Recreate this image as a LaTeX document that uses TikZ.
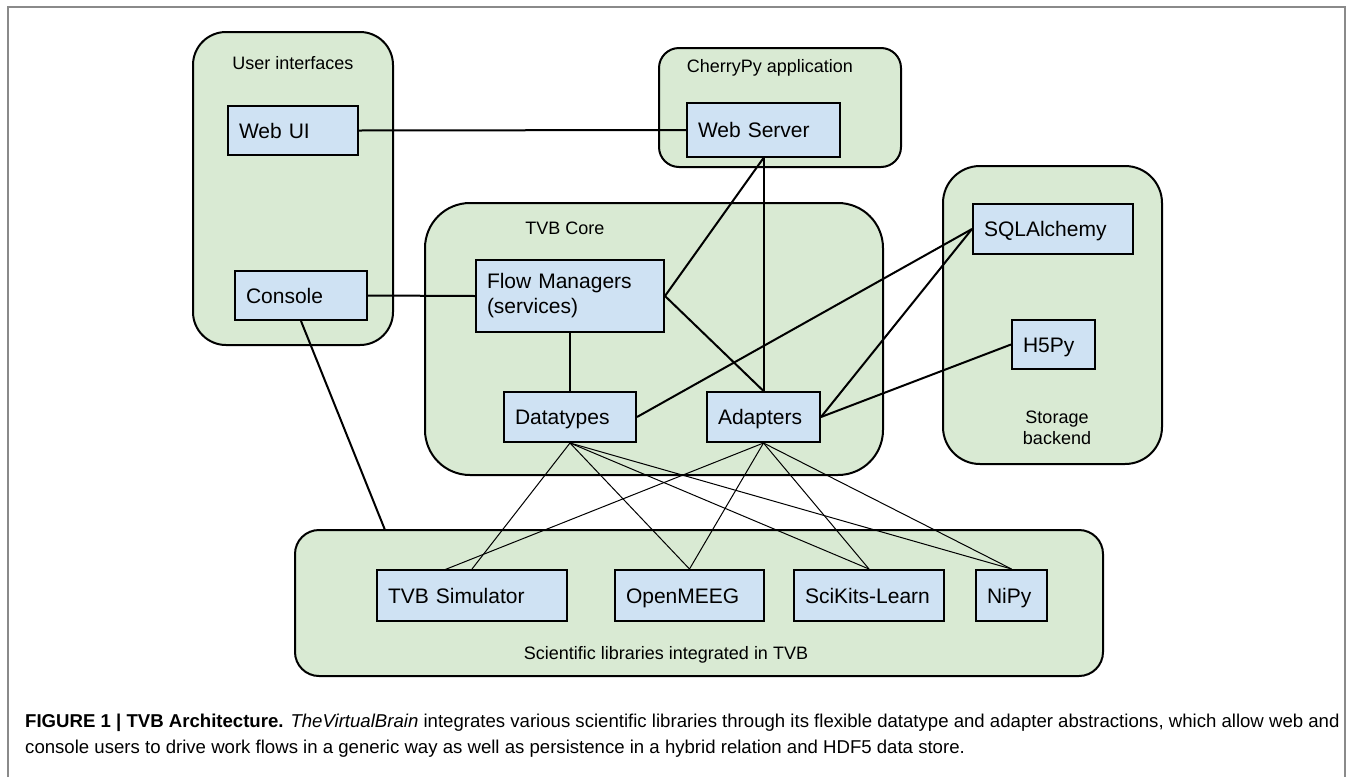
\documentclass[tikz,border=0pt]{standalone}
\usepackage{fontspec}
\setmainfont{Liberation Sans}
\definecolor{cgreen}{HTML}{D9EAD3}
\definecolor{cblue}{HTML}{CFE2F3}
\definecolor{framegray}{HTML}{8A8A8A}
\begin{document}
\begin{tikzpicture}[x=1pt,y=-1pt,
  container/.style={draw=black, line width=2pt, fill=cgreen},
  grouplabel/.style={font=\fontsize{18}{21}\selectfont, align=center, inner sep=0pt},
  compbox/.style={draw=black, line width=2pt, fill=cblue, inner xsep=11pt, inner ysep=0pt,
    align=left, font=\fontsize{21}{25}\selectfont},
  oneline/.style={text height=19pt, text depth=4pt},
  link/.style={line width=2pt, black},
  thinlink/.style={line width=1pt, black},
  captext/.style={anchor=base west, inner sep=0pt, font=\fontsize{18.6}{22}\selectfont}
]
\useasboundingbox (0,0) rectangle (1355,777);
\fill[white] (0,0) rectangle (1355,777);
% outer frame
\draw[framegray, line width=1.5pt] (8,777) -- (8,7) -- (1345,7) -- (1345,777);

% containers
\draw[container, rounded corners=33pt] (193,32) rectangle (393,345);
\draw[container, rounded corners=20pt] (659,48) rectangle (901,167);
\draw[container, rounded corners=45pt] (425,203) rectangle (883,475);
\draw[container, rounded corners=37pt] (943,166) rectangle (1162,464);
\draw[container, rounded corners=24pt] (295,530) rectangle (1103,676);

% container labels
\node[grouplabel] (lui) at (293,63) {User interfaces};
\node[grouplabel] (lcp) at (770,68) {CherryPy application};
\node[grouplabel] (lcore) at (565,228) {TVB Core};
\node[grouplabel] (lstore) at (1057,428) {Storage\\backend};
\node[grouplabel] (lsci) at (666,655) {Scientific libraries integrated in TVB};

% component boxes
\node[compbox, oneline, text width=108pt, minimum height=49pt] (webui) at (293,130.5) {Web UI};
\node[compbox, oneline, text width=110pt, minimum height=49pt] (console) at (301,295.5) {Console};
\node[compbox, oneline, text width=131pt, minimum height=54pt] (webserver) at (763.5,130) {Web Server};
\node[compbox, text width=166pt, minimum height=72pt] (flow) at (570,296) {Flow Managers\\(services)};
\node[compbox, oneline, text width=110pt, minimum height=50pt] (datatypes) at (570,417) {Datatypes};
\node[compbox, oneline, text width=91pt, minimum height=50pt] (adapters) at (763.5,417) {Adapters};
\node[compbox, oneline, text width=138pt, minimum height=50pt] (sqla) at (1053,229) {SQLAlchemy};
\node[compbox, oneline, text width=61pt, minimum height=49pt] (h5py) at (1053.5,344.5) {H5Py};
\node[compbox, oneline, text width=168pt, minimum height=51pt] (tvbsim) at (472,595.5) {TVB Simulator};
\node[compbox, oneline, text width=127pt, minimum height=51pt] (openmeeg) at (689.5,595.5) {OpenMEEG};
\node[compbox, oneline, text width=128pt, minimum height=51pt] (scikits) at (869,595.5) {SciKits-Learn};
\node[compbox, oneline, text width=49pt, minimum height=51pt] (nipy) at (1011.5,595.5) {NiPy};

\coordinate (scitop) at (385,530);
\coordinate (simleft) at (444,570);

% thick connectors
\draw[link] (webui.east) -- (webserver.west);
\draw[link] (console.east) -- (flow.west);
\draw[link] (flow.east) -- (webserver.south);
\draw[link] (flow.east) -- (adapters.north);
\draw[link] (webserver.south) -- (adapters.north);
\draw[link] (flow.south) -- (datatypes.north);
\draw[link] (datatypes.east) -- (sqla.west);
\draw[link] (adapters.east) -- (sqla.west);
\draw[link] (adapters.east) -- (h5py.west);
\draw[link] (console.south) -- (scitop);

% thin fan connectors
\draw[thinlink] (datatypes.south) -- (tvbsim.north);
\draw[thinlink] (datatypes.south) -- (openmeeg.north);
\draw[thinlink] (datatypes.south) -- (scikits.north);
\draw[thinlink] (datatypes.south) -- (nipy.north);
\draw[thinlink] (adapters.south) -- (simleft);
\draw[thinlink] (adapters.south) -- (openmeeg.north);
\draw[thinlink] (adapters.south) -- (scikits.north);
\draw[thinlink] (adapters.south) -- (nipy.north);

% caption
\node[captext] (cap1) at (25,727) {\textbf{FIGURE 1 | TVB Architecture.} \textit{TheVirtualBrain} integrates various scientific libraries through its flexible datatype and adapter abstractions, which allow web and};
\node[captext] (cap2) at (25,753) {console users to drive work flows in a generic way as well as persistence in a hybrid relation and HDF5 data store.};
\end{tikzpicture}
\end{document}
